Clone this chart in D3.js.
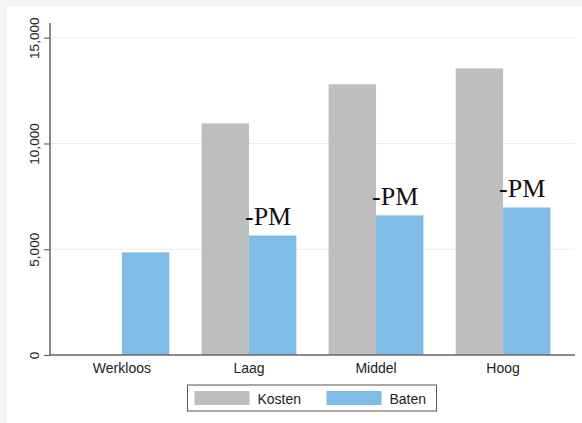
<!DOCTYPE html>
<html>
<head>
<meta charset="utf-8">
<script src="https://cdn.jsdelivr.net/npm/d3@7"></script>
<style>
  html, body { margin: 0; padding: 0; background: #f6f6f6; }
  svg { display: block; }
</style>
</head>
<body>
<svg id="chart" width="582" height="423"></svg>
<script>
// Categories and series
const categories = ["Werkloos", "Laag", "Middel", "Hoog"];
const series = ["Kosten", "Baten"];
const kosten = [null, 10950, 12800, 13550];
const baten = [4850, 5650, 6600, 6975];
const pmLabels = [null, "-PM", "-PM", "-PM"];
const yTicks = [0, 5000, 10000, 15000];

const colors = { Kosten: "#bebebf", Baten: "#7fbde6" };

const W = 582, H = 423;
const plot = { left: 50, right: 575, top: 23, bottom: 355 };

const svg = d3.select("#chart");

// graph region
svg.append("rect").attr("x", 7).attr("y", 7).attr("width", W - 7).attr("height", H - 7).attr("fill", "#ffffff");

const y = d3.scaleLinear().domain([0, 15000]).range([plot.bottom, 37.7]);
const x0 = d3.scaleBand().domain(categories).range([plot.left, plot.right])
  .paddingInner(0.254).paddingOuter(0.193);
const x1 = d3.scaleBand().domain(series).range([0, x0.bandwidth()]);

// gridlines
svg.append("g").selectAll("line").data(yTicks.filter(d => d > 0)).join("line")
  .attr("x1", plot.left + 1).attr("x2", plot.right)
  .attr("y1", d => y(d)).attr("y2", d => y(d))
  .attr("stroke", "#ececec").attr("stroke-width", 1);

// bars
const rows = categories.map((c, i) => ({ cat: c, Kosten: kosten[i], Baten: baten[i], pm: pmLabels[i] }));
const groups = svg.append("g").selectAll("g").data(rows).join("g")
  .attr("transform", d => `translate(${x0(d.cat)},0)`);
groups.selectAll("rect")
  .data(d => series.filter(s => d[s] != null).map(s => ({ s, v: d[s] })))
  .join("rect")
  .attr("x", d => x1(d.s)).attr("width", x1.bandwidth())
  .attr("y", d => y(d.v)).attr("height", d => y(0) - y(d.v))
  .attr("fill", d => colors[d.s]);

// PM annotations above the Baten bars
groups.filter(d => d.pm).append("text")
  .attr("x", x1("Baten") - 4)
  .attr("y", d => y(d.Baten) - 10)
  .attr("font-family", "'Liberation Serif', 'Times New Roman', serif")
  .attr("font-size", 26)
  .attr("fill", "#111")
  .text(d => d.pm);

// y axis
const yAxis = d3.axisLeft(y).tickValues(yTicks).tickSize(6).tickFormat(d3.format(","));
const ya = svg.append("g").attr("transform", `translate(${plot.left},0)`).call(yAxis);
ya.select(".domain").remove();
ya.selectAll(".tick line").attr("stroke", "#666").attr("stroke-width", 1.2);
ya.selectAll(".tick text")
  .attr("font-family", "'Liberation Sans', Arial, sans-serif")
  .attr("font-size", 13.6).attr("fill", "#222")
  .attr("text-anchor", "middle")
  .attr("transform", "rotate(-90)")
  .attr("x", 0).attr("dx", 0).attr("dy", 0)
  .attr("y", -11.5);
// position rotated labels at each tick
ya.selectAll(".tick text").each(function() {
  d3.select(this).attr("transform", "rotate(-90)");
});
svg.append("line").attr("x1", plot.left).attr("x2", plot.left)
  .attr("y1", plot.top).attr("y2", plot.bottom + 0.5)
  .attr("stroke", "#666").attr("stroke-width", 1.5);

// x axis
const xAxis = d3.axisBottom(x0).tickSize(0).tickPadding(8);
const xa = svg.append("g").attr("transform", `translate(0,${plot.bottom})`).call(xAxis);
xa.select(".domain").remove();
xa.selectAll(".tick text")
  .attr("font-family", "'Liberation Sans', Arial, sans-serif")
  .attr("font-size", 14).attr("fill", "#222");
svg.append("line").attr("x1", plot.left).attr("x2", plot.right)
  .attr("y1", plot.bottom).attr("y2", plot.bottom)
  .attr("stroke", "#666").attr("stroke-width", 1.5);

// legend
const lg = svg.append("g").attr("transform", "translate(187.5,385)");
lg.append("rect").attr("width", 249).attr("height", 26)
  .attr("fill", "#fff").attr("stroke", "#555").attr("stroke-width", 1);
const items = lg.selectAll("g").data(series).join("g")
  .attr("transform", (d, i) => `translate(${7 + i * 132},6)`);
items.append("rect").attr("width", 55).attr("height", 14).attr("fill", d => colors[d]);
items.append("text").attr("x", 63).attr("y", 12.5)
  .attr("font-family", "'Liberation Sans', Arial, sans-serif")
  .attr("font-size", 14).attr("fill", "#222").text(d => d);
</script>
</body>
</html>
